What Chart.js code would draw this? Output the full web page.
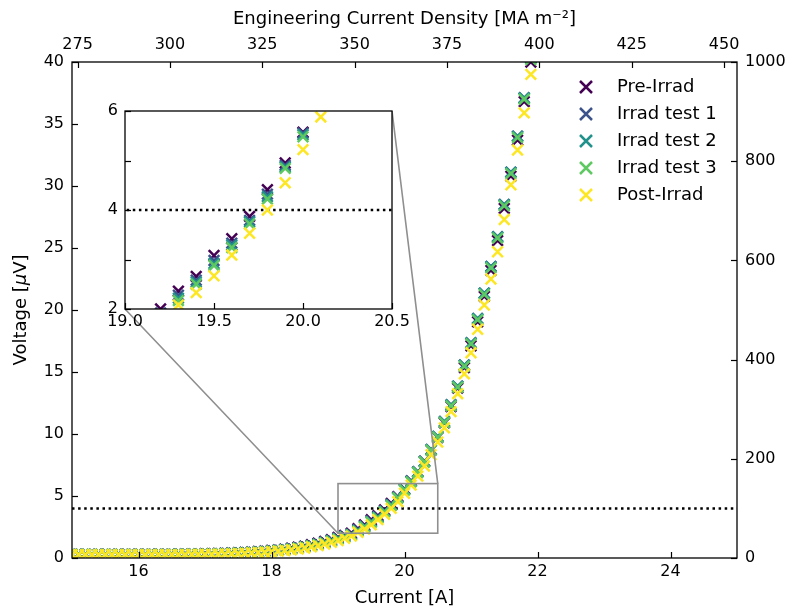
<!DOCTYPE html>
<html>
<head>
<meta charset="utf-8">
<script src="https://cdn.jsdelivr.net/npm/chart.js@4.4.1/dist/chart.umd.min.js"></script>
<style>
  html, body { margin: 0; padding: 0; background: #fff; }
  #wrap { position: relative; width: 794px; height: 613px; }
  #wrap canvas { position: absolute; left: 0; top: 0; }
  #inset { z-index: 2; pointer-events: none; }
</style>
</head>
<body>
<div id="wrap">
  <canvas id="main" width="794" height="613"></canvas>
  <canvas id="inset" width="794" height="613"></canvas>
</div>
<script>
// current steps [A]
const currents = [
  15.0, 15.1, 15.2, 15.3, 15.4, 15.5, 15.6, 15.7, 15.8, 15.9,
  16.0, 16.1, 16.2, 16.3, 16.4, 16.5, 16.6, 16.7, 16.8, 16.9,
  17.0, 17.1, 17.2, 17.3, 17.4, 17.5, 17.6, 17.7, 17.8, 17.9,
  18.0, 18.1, 18.2, 18.3, 18.4, 18.5, 18.6, 18.7, 18.8, 18.9,
  19.0, 19.1, 19.2, 19.3, 19.4, 19.5, 19.6, 19.7, 19.8, 19.9,
  20.0, 20.1, 20.2, 20.3, 20.4, 20.5, 20.6, 20.7, 20.8, 20.9,
  21.0, 21.1, 21.2, 21.3, 21.4, 21.5, 21.6, 21.7, 21.8, 21.9
];

// voltages [uV]
const preIrrad = [
  0.30, 0.29, 0.30, 0.29, 0.30, 0.30, 0.29, 0.30, 0.30, 0.30,
  0.30, 0.30, 0.31, 0.30, 0.31, 0.31, 0.31, 0.32, 0.32, 0.33,
  0.34, 0.35, 0.36, 0.38, 0.40, 0.42, 0.45, 0.48, 0.52, 0.56,
  0.61, 0.66, 0.72, 0.79, 0.87, 0.96, 1.07, 1.19, 1.33, 1.48,
  1.65, 1.82, 2.00, 2.36, 2.66, 3.08, 3.42, 3.87, 4.41, 4.95,
  5.57, 6.22, 6.95, 7.78, 8.70, 9.72, 10.90, 12.22, 13.70, 15.35,
  17.12, 19.05, 21.10, 23.20, 25.60, 28.20, 30.80, 33.70, 36.80, 40.00
];
const irradTest1 = [
  0.29, 0.29, 0.28, 0.29, 0.29, 0.28, 0.29, 0.29, 0.29, 0.28,
  0.29, 0.29, 0.29, 0.30, 0.29, 0.30, 0.30, 0.30, 0.31, 0.31,
  0.32, 0.33, 0.34, 0.36, 0.38, 0.40, 0.43, 0.46, 0.49, 0.53,
  0.58, 0.63, 0.69, 0.75, 0.83, 0.92, 1.02, 1.13, 1.27, 1.42,
  1.58, 1.75, 1.92, 2.28, 2.58, 2.98, 3.33, 3.79, 4.32, 4.90,
  5.55, 6.21, 6.96, 7.81, 8.76, 9.81, 11.01, 12.36, 13.86, 15.56,
  17.36, 19.31, 21.36, 23.52, 25.92, 28.52, 31.12, 34.02, 37.12, 40.32
];
const irradTest2 = [
  0.28, 0.29, 0.28, 0.28, 0.29, 0.28, 0.28, 0.29, 0.28, 0.28,
  0.29, 0.28, 0.29, 0.29, 0.29, 0.29, 0.30, 0.30, 0.30, 0.31,
  0.31, 0.32, 0.33, 0.35, 0.37, 0.39, 0.42, 0.45, 0.48, 0.52,
  0.56, 0.61, 0.67, 0.73, 0.81, 0.90, 1.00, 1.11, 1.24, 1.39,
  1.55, 1.71, 1.88, 2.22, 2.54, 2.92, 3.29, 3.76, 4.27, 4.87,
  5.52, 6.18, 6.94, 7.79, 8.74, 9.80, 11.00, 12.34, 13.85, 15.55,
  17.35, 19.30, 21.35, 23.50, 25.90, 28.50, 31.10, 34.00, 37.10, 40.30
];
const irradTest3 = [
  0.28, 0.28, 0.28, 0.28, 0.28, 0.28, 0.28, 0.28, 0.28, 0.28,
  0.28, 0.28, 0.28, 0.29, 0.29, 0.29, 0.29, 0.29, 0.30, 0.30,
  0.31, 0.32, 0.33, 0.34, 0.36, 0.38, 0.41, 0.44, 0.47, 0.51,
  0.55, 0.60, 0.65, 0.71, 0.79, 0.88, 0.97, 1.08, 1.21, 1.36,
  1.52, 1.68, 1.85, 2.17, 2.50, 2.88, 3.24, 3.72, 4.22, 4.84,
  5.48, 6.14, 6.90, 7.74, 8.69, 9.74, 10.93, 12.27, 13.77, 15.46,
  17.26, 19.20, 21.25, 23.40, 25.80, 28.40, 31.00, 33.90, 37.00, 40.20
];
const postIrrad = [
  0.27, 0.27, 0.27, 0.27, 0.27, 0.27, 0.27, 0.27, 0.27, 0.27,
  0.27, 0.27, 0.27, 0.27, 0.27, 0.27, 0.27, 0.27, 0.28, 0.28,
  0.28, 0.29, 0.30, 0.31, 0.33, 0.35, 0.37, 0.40, 0.43, 0.46,
  0.50, 0.55, 0.60, 0.66, 0.73, 0.81, 0.90, 1.00, 1.12, 1.26,
  1.41, 1.58, 1.76, 2.08, 2.33, 2.67, 3.09, 3.53, 4.00, 4.55,
  5.22, 5.88, 6.60, 7.42, 8.33, 9.35, 10.50, 11.80, 13.25, 14.85,
  16.55, 18.45, 20.40, 22.50, 24.70, 27.30, 30.10, 32.90, 35.90, 39.00
];

const seriesNames = ['Pre-Irrad', 'Irrad test 1', 'Irrad test 2', 'Irrad test 3', 'Post-Irrad'];
const seriesValues = [preIrrad, irradTest1, irradTest2, irradTest3, postIrrad];
const seriesColors = ['#440154', '#3b528b', '#21918c', '#5ec962', '#fde725'];

const criterionV = 4;             // 4 uV threshold (dotted)
const xRange = [15, 25];
const yRange = [0, 40];
const fieldRange = [0, 1000];     // right axis
const densityRange = [273.5, 453.5];
const xTicks = [16, 18, 20, 22, 24];
const yTicks = [0, 5, 10, 15, 20, 25, 30, 35, 40];
const fieldTicks = [0, 200, 400, 600, 800, 1000];
const densityTicks = [275, 300, 325, 350, 375, 400, 425, 450];

const insetX = [19.0, 20.5];
const insetY = [2, 6];
const insetXTicks = [19.0, 19.5, 20.0, 20.5];
const insetYTicks = [2, 3, 4, 5, 6];

const FONT = 'DejaVu Sans';
const tickFont = { family: FONT, size: 16 };
const labelFont = { family: FONT, size: 18 };
const plain = v => String(v);

function makeDatasets() {
  const ds = seriesNames.map((name, i) => ({
    label: name,
    data: currents.map((c, j) => ({ x: c, y: seriesValues[i][j] })),
    pointStyle: 'crossRot',
    pointRadius: 7.5,
    pointHoverRadius: 7.5,
    pointBorderWidth: 2.5,
    borderColor: seriesColors[i],
    backgroundColor: seriesColors[i],
    showLine: false,
    clip: 0,
    order: seriesNames.length - i
  }));
  ds.push({
    label: 'criterion',
    type: 'line',
    data: [{ x: xRange[0], y: criterionV }, { x: xRange[1], y: criterionV }],
    borderColor: '#000',
    borderWidth: 2.5,
    borderDash: [2.5, 3.6],
    pointRadius: 0,
    clip: 0,
    order: 20
  });
  return ds;
}

const setTicks = arr => scale => { scale.ticks = arr.map(v => ({ value: v })); };

function inwardTicks(chart, len) {
  const ctx = chart.ctx;
  const a = chart.chartArea;
  ctx.save();
  ctx.strokeStyle = '#000';
  ctx.lineWidth = 1.2;
  Object.values(chart.scales).forEach(s => {
    s.ticks.forEach(t => {
      const p = Math.round(s.getPixelForValue(t.value)) + 0.5;
      ctx.beginPath();
      if (s.position === 'bottom') { ctx.moveTo(p, a.bottom); ctx.lineTo(p, a.bottom - len); }
      else if (s.position === 'top') { ctx.moveTo(p, a.top); ctx.lineTo(p, a.top + len); }
      else if (s.position === 'left') { ctx.moveTo(a.left, p); ctx.lineTo(a.left + len, p); }
      else { ctx.moveTo(a.right, p); ctx.lineTo(a.right - len, p); }
      ctx.stroke();
    });
  });
  ctx.lineWidth = 1.3;
  ctx.strokeRect(a.left, a.top, a.right - a.left, a.bottom - a.top);
  ctx.restore();
}

// ---------- inset ----------
const insetChart = new Chart(document.getElementById('inset'), {
  type: 'scatter',
  data: { datasets: makeDatasets() },
  options: {
    responsive: false,
    animation: false,
    events: [],
    layout: { padding: { left: 95, top: 111, right: 402, bottom: 279 } },
    plugins: { legend: { display: false }, tooltip: { enabled: false } },
    scales: {
      x: {
        type: 'linear', min: insetX[0], max: insetX[1],
        afterBuildTicks: setTicks(insetXTicks),
        afterFit: s => { s.height = 25; },
        grid: { display: false, drawTicks: false }, border: { display: false },
        ticks: { font: tickFont, color: '#000', padding: 3, maxRotation: 0,
                 callback: v => v.toFixed(1) }
      },
      y: {
        type: 'linear', min: insetY[0], max: insetY[1],
        afterBuildTicks: setTicks(insetYTicks),
        afterFit: s => { s.width = 30; },
        grid: { display: false, drawTicks: false }, border: { display: false },
        ticks: { font: tickFont, color: '#000', padding: 7,
                 callback: v => (v % 2 === 0 ? String(v) : '') }
      }
    }
  },
  plugins: [{
    id: 'insetFrame',
    beforeDatasetsDraw(chart) {
      const a = chart.chartArea;
      chart.ctx.save();
      chart.ctx.fillStyle = '#fff';
      chart.ctx.fillRect(a.left, a.top, a.right - a.left, a.bottom - a.top);
      chart.ctx.restore();
    },
    afterDatasetsDraw(chart) { inwardTicks(chart, 6); }
  }]
});

// ---------- main ----------
new Chart(document.getElementById('main'), {
  type: 'scatter',
  data: { datasets: makeDatasets() },
  options: {
    responsive: false,
    animation: false,
    events: [],
    layout: { padding: 0 },
    plugins: { legend: { display: false }, tooltip: { enabled: false } },
    scales: {
      x: {
        type: 'linear', position: 'bottom', min: xRange[0], max: xRange[1],
        afterBuildTicks: setTicks(xTicks),
        afterFit: s => { s.height = 55; },
        grid: { display: false, drawTicks: false }, border: { display: false },
        ticks: { font: tickFont, color: '#000', padding: 4, maxRotation: 0, callback: plain },
        title: { display: true, text: 'Current [A]', font: labelFont, color: '#000',
                 padding: { top: 0, bottom: 4 } }
      },
      x2: {
        type: 'linear', position: 'top', min: densityRange[0], max: densityRange[1],
        afterBuildTicks: setTicks(densityTicks),
        afterFit: s => { s.height = 62; },
        grid: { display: false, drawTicks: false }, border: { display: false },
        ticks: { font: tickFont, color: '#000', padding: 8, maxRotation: 0, callback: plain },
        title: { display: true, text: 'Engineering Current Density [MA m\u207B\u00B2]',
                 font: labelFont, color: '#000', padding: { top: 9, bottom: 0 } }
      },
      y: {
        type: 'linear', position: 'left', min: yRange[0], max: yRange[1],
        afterBuildTicks: setTicks(yTicks),
        afterFit: s => { s.width = 72; },
        grid: { display: false, drawTicks: false }, border: { display: false },
        ticks: { font: tickFont, color: '#000', padding: 8, callback: plain }
      },
      y2: {
        type: 'linear', position: 'right', min: fieldRange[0], max: fieldRange[1],
        afterBuildTicks: setTicks(fieldTicks),
        afterFit: s => { s.width = 57; },
        grid: { display: false, drawTicks: false }, border: { display: false },
        ticks: { font: tickFont, color: '#000', padding: 8, callback: plain }
      }
    }
  },
  plugins: [{
    id: 'decor',
    afterDatasetsDraw(chart) {
      const ctx = chart.ctx;
      const xs = chart.scales.x, ys = chart.scales.y;
      inwardTicks(chart, 6);

      // zoom box + connectors
      const x0 = xs.getPixelForValue(insetX[0]), x1 = xs.getPixelForValue(insetX[1]);
      const y0 = ys.getPixelForValue(insetY[0]), y1 = ys.getPixelForValue(insetY[1]);
      const ia = insetChart.chartArea;
      ctx.save();
      ctx.strokeStyle = '#8f8f8f';
      ctx.lineWidth = 1.6;
      ctx.strokeRect(x0, y1, x1 - x0, y0 - y1);
      ctx.beginPath();
      ctx.moveTo(ia.left, ia.bottom); ctx.lineTo(x0, y0);
      ctx.moveTo(ia.right, ia.top); ctx.lineTo(x1, y1);
      ctx.stroke();
      ctx.restore();

      // legend
      ctx.save();
      ctx.font = `18px "${FONT}"`;
      ctx.textBaseline = 'middle';
      ctx.fillStyle = '#000';
      seriesNames.forEach((name, i) => {
        const cy = 87 + i * 27, cx = 586, h = 6;
        ctx.strokeStyle = seriesColors[i];
        ctx.lineWidth = 2.5;
        ctx.beginPath();
        ctx.moveTo(cx - h, cy - h); ctx.lineTo(cx + h, cy + h);
        ctx.moveTo(cx - h, cy + h); ctx.lineTo(cx + h, cy - h);
        ctx.stroke();
        ctx.fillText(name, 617, cy);
      });
      ctx.restore();

      // y label with italic mu
      ctx.save();
      const midY = (chart.chartArea.top + chart.chartArea.bottom) / 2;
      ctx.translate(21, midY);
      ctx.rotate(-Math.PI / 2);
      ctx.textBaseline = 'middle';
      ctx.fillStyle = '#000';
      const parts = [['Voltage [', ''], ['\u03BC', 'italic '], ['V]', '']];
      let total = 0;
      parts.forEach(p => { ctx.font = `${p[1]}18px "${FONT}"`; total += ctx.measureText(p[0]).width; });
      let px = -total / 2;
      parts.forEach(p => {
        ctx.font = `${p[1]}18px "${FONT}"`;
        ctx.fillText(p[0], px, 0);
        px += ctx.measureText(p[0]).width;
      });
      ctx.restore();
    }
  }]
});
</script>
</body>
</html>
